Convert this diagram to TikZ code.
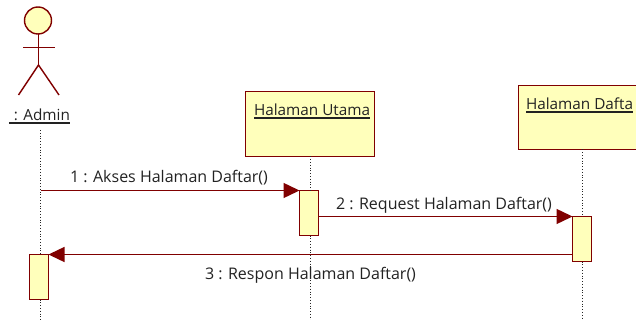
\documentclass[tikz,border=0pt]{standalone}
\usepackage{fontspec}
\setmainfont{Open Sans}
\usetikzlibrary{arrows.meta}
\definecolor{umlred}{RGB}{128,0,0}
\definecolor{umlfill}{RGB}{255,255,187}
\definecolor{umltext}{RGB}{34,34,34}
\newcommand{\ulname}[1]{\vtop{\hbox{#1}\kern1.2pt\hrule height 1.2pt}}
\tikzset{
  x=1pt,y=-1pt,
  objbox/.style={draw=umlred,fill=umlfill,line width=1.4pt,minimum width=129pt,minimum height=65pt,inner sep=0pt,outer sep=0pt},
  actbox/.style={draw=umlred,fill=umlfill,line width=1.4pt,minimum width=19pt,minimum height=45pt,inner sep=0pt,outer sep=0pt},
  lifeline/.style={draw=black!85,line width=0.8pt,dotted},
  msg/.style={draw=umlred,line width=1.4pt,-{Triangle[length=16pt,width=15pt,fill=umlred]}},
  limb/.style={draw=umlred,line width=1.4pt},
  lbl/.style={anchor=base west,inner sep=0pt,outer sep=0pt,text=umltext,font=\fontsize{16pt}{18pt}\selectfont},
  namelbl/.style={lbl,font=\fontsize{15.3pt}{18pt}\selectfont},
}
\begin{document}
\begin{tikzpicture}
\useasboundingbox (0,0) rectangle (636,320);
\clip (0,0) rectangle (636,320);
% actor
\node[circle,draw=umlred,fill=umlfill,line width=1.4pt,minimum size=27pt,inner sep=0pt,outer sep=0pt] (head) at (38,20.5) {};
\coordinate (hip) at (38.5,65);
\coordinate (armL) at (23,47.5);
\coordinate (armR) at (54.5,47.5);
\coordinate (legL) at (18.5,95);
\coordinate (legR) at (59,95);
\draw[limb] (head.south) ++(0.5,0) -- (hip);
\draw[limb] (armL) -- (armR);
\draw[limb] (legL) -- (hip) -- (legR);
\node[namelbl] (admin) at (9,121) {\ulname{\kern5pt: Admin}};
% objects
\node[objbox] (utama) at (310,124) {};
\node[namelbl] (utamaT) at (254,116) {\ulname{Halaman Utama}};
\node[objbox,minimum width=130pt,minimum height=64pt] (daftar) at (583.5,117.5) {};
\node[namelbl] (daftarT) at (526,110) {\ulname{Halaman Dafta}};
% activations
\node[actbox] (uact) at (309,213) {};
\node[actbox] (dact) at (582,239) {};
\node[actbox] (aact) at (39,277) {};
% lifelines
\coordinate (adminTop) at (40.5,130);
\coordinate (adminEnd) at (40.5,320);
\coordinate (utamaEnd) at (310.5,320);
\coordinate (daftarEnd) at (582.5,320);
\coordinate (msgStart) at (40.5,190.5);
\draw[lifeline] (adminTop) -- ([xshift=1.5pt]aact.north);
\draw[lifeline] ([xshift=1.5pt]aact.south) -- (adminEnd);
\draw[lifeline] ([xshift=0.5pt]utama.south) -- ([xshift=1.5pt]uact.north);
\draw[lifeline] ([xshift=1.5pt]uact.south) -- (utamaEnd);
\draw[lifeline] ([xshift=-1pt]daftar.south) -- ([xshift=0.5pt]dact.north);
\draw[lifeline] ([xshift=0.5pt]dact.south) -- (daftarEnd);
% messages
\draw[msg] (msgStart) -- (uact.north west);
\draw[msg] (uact.east |- dact.north west) -- (dact.north west);
\draw[msg] (dact.west |- aact.north east) -- (aact.north east);
\node[lbl] (m1) at (70,182.5) {1 : Akses Halaman Daftar()};
\node[lbl] (m2) at (336,209) {2 : Request Halaman Daftar()};
\node[lbl] (m3) at (205,279) {3 : Respon Halaman Daftar()};
\end{tikzpicture}
\end{document}
